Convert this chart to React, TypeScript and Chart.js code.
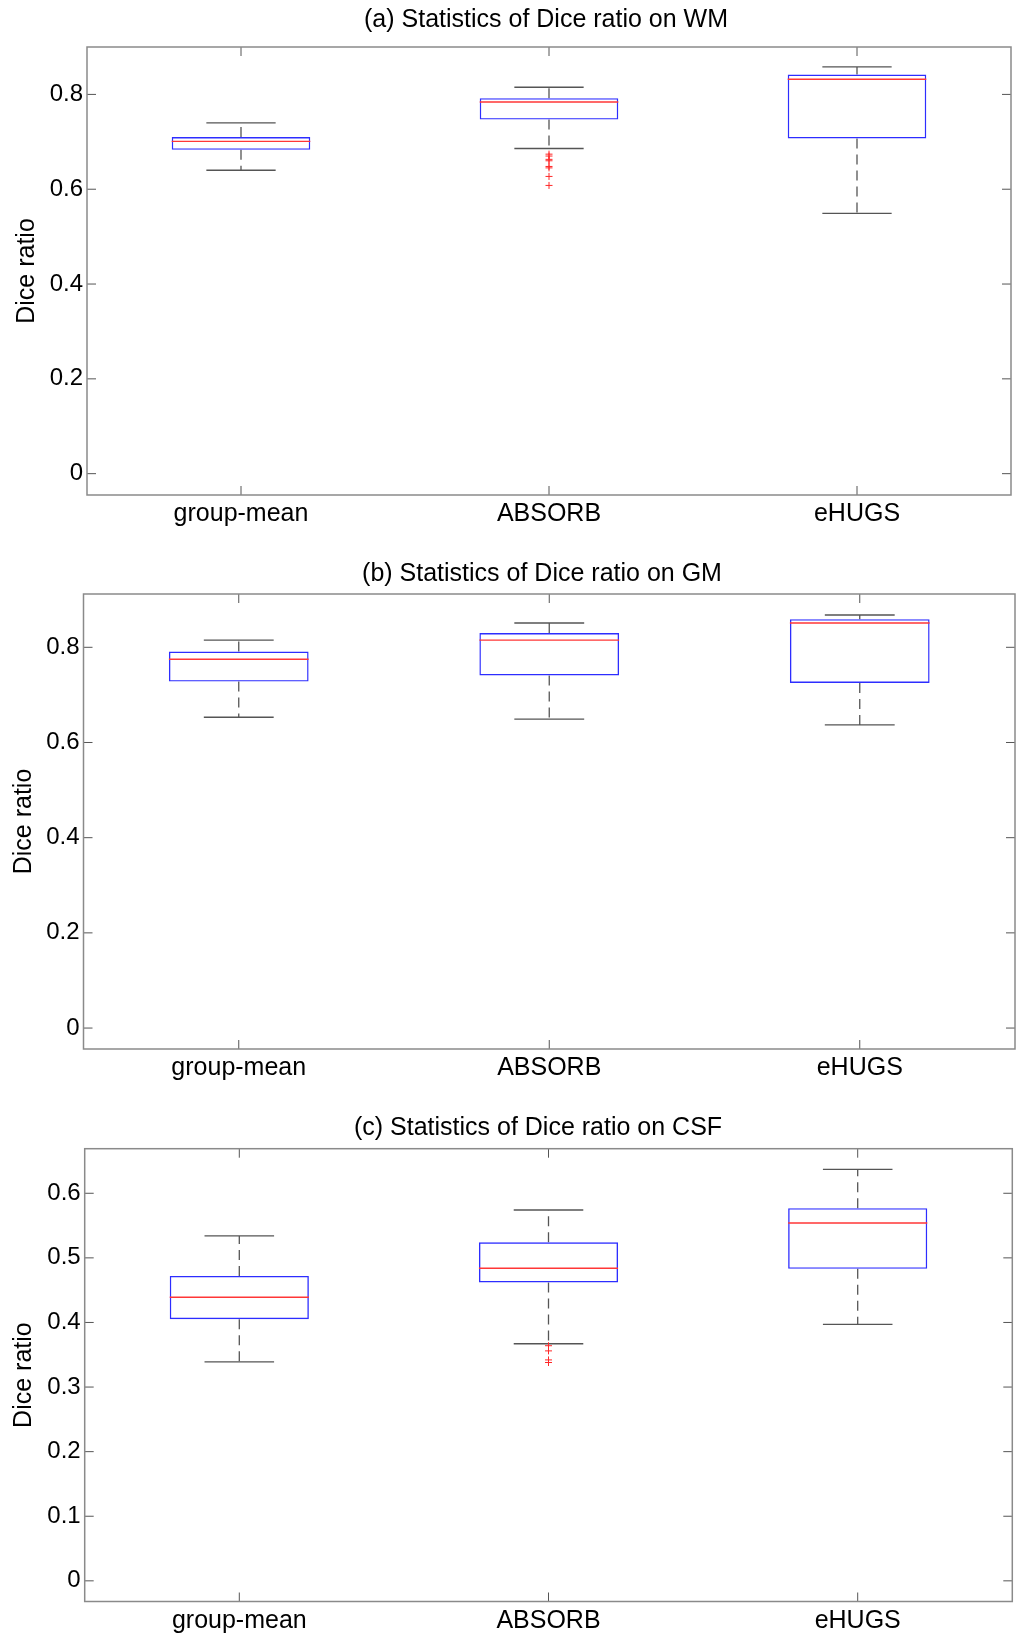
import React, { useEffect, useRef } from "react";
import { Chart, registerables } from "chart.js";
Chart.register(...registerables);

const FONT = "'Liberation Sans', Arial, Helvetica, sans-serif";

const categories = ["group-mean", "ABSORB", "eHUGS"];

// (a) WM
const wmLow = [0.640, 0.686, 0.549];
const wmQ1 = [0.683, 0.747, 0.707];
const wmMedian = [0.701, 0.784, 0.832];
const wmQ3 = [0.710, 0.792, 0.842];
const wmHigh = [0.740, 0.815, 0.858];
const wmOutliers = [[], [0.674, 0.670, 0.663, 0.660, 0.648, 0.645, 0.627, 0.608], []];
const wmTicks = [0, 0.2, 0.4, 0.6, 0.8];

// (b) GM
const gmLow = [0.653, 0.649, 0.637];
const gmQ1 = [0.728, 0.741, 0.725];
const gmMedian = [0.775, 0.815, 0.851];
const gmQ3 = [0.791, 0.830, 0.859];
const gmHigh = [0.815, 0.851, 0.868];
const gmOutliers = [[], [], []];
const gmTicks = [0, 0.2, 0.4, 0.6, 0.8];

// (c) CSF
const csfLow = [0.339, 0.367, 0.397];
const csfQ1 = [0.405, 0.462, 0.483];
const csfMedian = [0.439, 0.484, 0.554];
const csfQ3 = [0.472, 0.524, 0.577];
const csfHigh = [0.534, 0.574, 0.637];
const csfOutliers = [[], [0.364, 0.356, 0.342, 0.338], []];
const csfTicks = [0, 0.1, 0.2, 0.3, 0.4, 0.5, 0.6];

const BOX_HALF = 0.225;
const CAP_HALF = 0.1125;

type PanelCfg = {
  title: string;
  low: number[]; q1: number[]; med: number[]; q3: number[]; high: number[];
  outliers: number[][];
  yTicks: number[];
  yMin: number; yMax: number;
  top: number; height: number;
  T: number; B: number; L: number; R: number;
  titleX: number; titleY: number;
  yTitlePad: number; xLabelPad: number;
};

const panels: PanelCfg[] = [
  {
    title: "(a) Statistics of Dice ratio on WM",
    low: wmLow, q1: wmQ1, med: wmMedian, q3: wmQ3, high: wmHigh, outliers: wmOutliers,
    yTicks: wmTicks, yMin: -0.045, yMax: 0.9,
    top: 0, height: 530, T: 47, B: 495, L: 87, R: 1011,
    titleX: 546, titleY: 20, yTitlePad: 12.5, xLabelPad: 4.5,
  },
  {
    title: "(b) Statistics of Dice ratio on GM",
    low: gmLow, q1: gmQ1, med: gmMedian, q3: gmQ3, high: gmHigh, outliers: gmOutliers,
    yTicks: gmTicks, yMin: -0.044, yMax: 0.912,
    top: 530, height: 555, T: 64, B: 519, L: 83.5, R: 1015,
    titleX: 542, titleY: 44, yTitlePad: 9, xLabelPad: 4,
  },
  {
    title: "(c) Statistics of Dice ratio on CSF",
    low: csfLow, q1: csfQ1, med: csfMedian, q3: csfQ3, high: csfHigh, outliers: csfOutliers,
    yTicks: csfTicks, yMin: -0.032, yMax: 0.669,
    top: 1085, height: 548, T: 63.7, B: 516.5, L: 84.7, R: 1012.3,
    titleX: 538, titleY: 43.4, yTitlePad: 9, xLabelPad: 5,
  },
];

const titlePlugin = {
  id: "panelTitle",
  afterDraw(chart: any, _args: any, opts: any) {
    const ctx = chart.ctx;
    ctx.save();
    ctx.font = `25px ${FONT}`;
    ctx.fillStyle = "#000";
    ctx.textAlign = "center";
    ctx.textBaseline = "middle";
    ctx.fillText(opts.text, opts.x, opts.y);
    ctx.restore();
  },
};

const framePlugin = {
  id: "frame",
  afterDatasetsDraw(chart: any) {
    const { ctx, chartArea: a, scales } = chart;
    ctx.save();
    ctx.strokeStyle = "#555";
    ctx.lineWidth = 1;
    const len = 9;
    const seg = (x1: number, y1: number, x2: number, y2: number) => {
      ctx.beginPath();
      ctx.moveTo(x1, y1);
      ctx.lineTo(x2, y2);
      ctx.stroke();
    };
    scales.y.ticks.forEach((t: any) => {
      const py = scales.y.getPixelForValue(t.value);
      seg(a.left, py, a.left + len, py);
      seg(a.right, py, a.right - len, py);
    });
    scales.x.ticks.forEach((t: any) => {
      const px = scales.x.getPixelForValue(t.value);
      seg(px, a.bottom, px, a.bottom - len);
      seg(px, a.top, px, a.top + len);
    });
    ctx.strokeStyle = "#8a8a8a";
    ctx.lineWidth = 1.5;
    ctx.strokeRect(a.left, a.top, a.right - a.left, a.bottom - a.top);
    ctx.restore();
  },
};

function buildDatasets(p: PanelCfg) {
  const stems: any[] = [];
  const caps: any[] = [];
  const medians: any[] = [];
  const boxes: any[] = [];
  const outs: any[] = [];
  categories.forEach((_, i) => {
    const x = i + 1;
    stems.push({ x, y: p.q3[i] }, { x, y: p.high[i] }, { x, y: null });
    stems.push({ x, y: p.q1[i] }, { x, y: p.low[i] }, { x, y: null });
    caps.push({ x: x - CAP_HALF, y: p.high[i] }, { x: x + CAP_HALF, y: p.high[i] }, { x, y: null });
    caps.push({ x: x - CAP_HALF, y: p.low[i] }, { x: x + CAP_HALF, y: p.low[i] }, { x, y: null });
    medians.push({ x: x - BOX_HALF, y: p.med[i] }, { x: x + BOX_HALF, y: p.med[i] }, { x, y: null });
    boxes.push({ x, y: [p.q1[i], p.q3[i]] });
    p.outliers[i].forEach((v) => outs.push({ x, y: v }));
  });
  return [
    {
      type: "line", data: stems, borderColor: "#555", borderWidth: 1.3, borderDash: [10, 6],
      pointRadius: 0, fill: false, spanGaps: false, order: 5,
    },
    {
      type: "line", data: caps, borderColor: "#555", borderWidth: 1.4,
      pointRadius: 0, fill: false, spanGaps: false, order: 4,
    },
    {
      type: "bar", data: boxes, backgroundColor: "rgba(0,0,0,0)", borderColor: "rgb(45,45,255)",
      borderWidth: 1.4, borderSkipped: false, barPercentage: BOX_HALF * 2, categoryPercentage: 1, order: 3,
    },
    {
      type: "line", data: medians, borderColor: "rgb(255,55,55)", borderWidth: 1.4,
      pointRadius: 0, fill: false, spanGaps: false, order: 2,
    },
    {
      type: "line", data: outs, showLine: false, pointStyle: "cross", pointRadius: 3.5,
      pointBorderColor: "rgb(255,40,40)", pointBorderWidth: 1, borderColor: "rgb(255,40,40)", order: 1,
    },
  ];
}

function Panel({ p }: { p: PanelCfg }) {
  const ref = useRef<HTMLCanvasElement | null>(null);
  useEffect(() => {
    if (!ref.current) return;
    const chart = new Chart(ref.current, {
      type: "bar",
      data: { datasets: buildDatasets(p) as any },
      plugins: [titlePlugin as any, framePlugin as any],
      options: {
        responsive: false,
        animation: false,
        devicePixelRatio: 1,
        events: [],
        layout: { padding: { top: p.T, left: 0, right: 1019 - p.R, bottom: 0 } },
        plugins: {
          legend: { display: false },
          tooltip: { enabled: false },
          title: { display: false },
          panelTitle: { text: p.title, x: p.titleX, y: p.titleY },
        } as any,
        scales: {
          x: {
            type: "linear",
            min: 0.5,
            max: 3.5,
            offset: false,
            grid: { display: false, drawTicks: false, tickLength: 0 },
            border: { display: false },
            afterBuildTicks: (s: any) => {
              s.ticks = categories.map((_, i) => ({ value: i + 1 }));
            },
            afterFit: (s: any) => {
              s.height = p.height - p.B;
            },
            ticks: {
              callback: (v: any) => categories[Math.round(Number(v)) - 1],
              color: "#000",
              font: { family: FONT, size: 25 },
              padding: p.xLabelPad,
              maxRotation: 0,
              autoSkip: false,
            },
          },
          y: {
            type: "linear",
            min: p.yMin,
            max: p.yMax,
            grid: { display: false, drawTicks: false, tickLength: 0 },
            border: { display: false },
            afterBuildTicks: (s: any) => {
              s.ticks = p.yTicks.map((v) => ({ value: v }));
            },
            afterFit: (s: any) => {
              s.width = p.L;
            },
            ticks: {
              callback: (v: any) => String(v),
              color: "#000",
              font: { family: FONT, size: 24 },
              padding: 4,
            },
            title: {
              display: true,
              text: "Dice ratio",
              color: "#000",
              font: { family: FONT, size: 25 },
              padding: { top: p.yTitlePad, bottom: 0 },
            },
          },
        },
      } as any,
    });
    return () => chart.destroy();
  }, [p]);
  return (
    <canvas
      ref={ref}
      width={1019}
      height={p.height}
      style={{ position: "absolute", left: 0, top: p.top, width: 1019, height: p.height, display: "block" }}
    />
  );
}

export default function App() {
  return (
    <div style={{ position: "absolute", left: 0, top: 0, width: 1019, height: 1633, background: "#fff" }}>
      {panels.map((p) => (
        <Panel key={p.title} p={p} />
      ))}
    </div>
  );
}
